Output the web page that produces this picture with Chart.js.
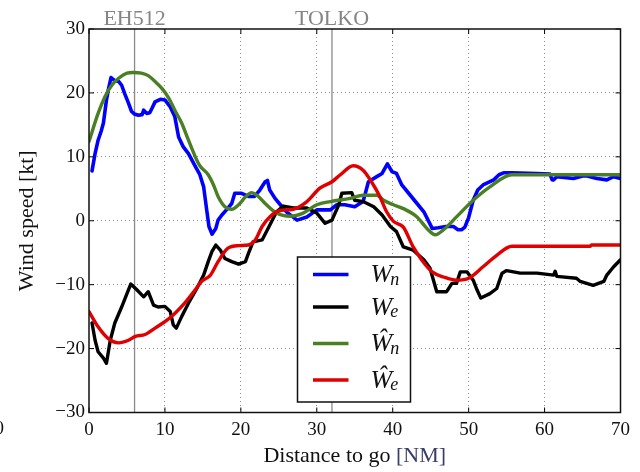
<!DOCTYPE html>
<html>
<head>
<meta charset="utf-8">
<title>Wind speed</title>
<script src="https://cdn.jsdelivr.net/npm/chart.js@4.4.0/dist/chart.umd.min.js"></script>
<style>
  body { margin: 0; background: #fff; }
  canvas { display: block; }
</style>
</head>
<body>
<canvas id="windChart" width="640" height="472"></canvas>
<script>
// Measured wind, north component (W_n)
const wnX = [0.4, 0.8, 1.2, 1.6, 1.9, 2.3, 2.6, 2.9, 3.3, 3.9, 4.3, 4.7, 5.2, 5.6, 6.0, 6.5, 7.0, 7.2, 7.6, 8.0,
    8.3, 8.7, 9.4, 10.0, 10.7, 11.3, 11.8, 12.4, 13.1, 14.0, 14.6, 15.1, 15.5, 15.8, 16.2, 16.7, 17.0, 17.5, 18.1, 18.8,
    19.2, 20.1, 21.0, 21.8, 22.5, 23.2, 23.5, 23.8, 24.5, 25.2, 26.0, 27.4, 28.7, 30.0, 31.8, 32.6, 33.7, 35.0, 36.1, 36.4,
    36.8, 37.9, 38.6, 39.3, 39.9, 40.5, 41.2, 42.1, 43.2, 44.1, 45.2, 46.0, 47.0, 48.0, 48.6, 49.1, 49.5, 50.0, 50.6, 51.2,
    51.9, 53.3, 54.0, 54.6, 55.7, 59.0, 60.7, 61.0, 61.2, 61.6, 63.8, 65.0, 65.6, 66.9, 68.2, 69.1, 70.0];
const wnY = [7.8, 10.5, 12.6, 14.0, 15.3, 18.9, 20.8, 22.4, 22.0, 21.8, 21.2, 19.9, 18.4, 17.1, 16.7, 16.5, 16.6, 17.3, 16.8, 16.9,
    17.6, 18.6, 19.0, 18.9, 17.8, 16.3, 13.1, 11.6, 10.5, 8.5, 7.2, 5.3, 1.7, -0.9, -2.1, -1.2, 0.1, 0.9, 1.7, 2.7,
    4.3, 4.3, 3.8, 3.8, 4.8, 6.1, 6.3, 4.8, 3.5, 2.5, 1.4, 0.1, 0.6, 1.7, 1.7, 2.5, 2.5, 2.2, 3.0, 4.3,
    6.1, 6.9, 7.4, 8.9, 7.7, 7.4, 5.6, 4.3, 2.7, 1.4, -1.2, -1.1, -0.9, -0.9, -1.4, -1.4, -1.0, 0.5, 3.2, 4.8,
    5.6, 6.4, 7.2, 7.5, 7.5, 7.4, 7.3, 6.4, 6.4, 6.9, 6.6, 7.0, 7.0, 6.6, 6.4, 6.9, 6.6];

// Measured wind, east component (W_e)
const weX = [0.4, 0.8, 1.2, 1.9, 2.3, 2.8, 3.4, 4.3, 5.0, 5.5, 6.3, 7.2, 7.8, 8.5, 9.1, 10.0, 10.7, 11.1, 11.5, 12.2,
    13.1, 14.2, 15.1, 15.7, 16.2, 16.7, 17.3, 17.9, 18.8, 19.7, 20.6, 21.0, 21.6, 22.8, 23.8, 24.7, 25.6, 26.9, 28.7, 30.0,
    31.1, 32.0, 32.9, 33.3, 34.6, 35.0, 36.1, 37.5, 38.6, 39.7, 40.5, 41.4, 42.7, 44.1, 44.9, 45.8, 47.1, 47.8, 48.4, 48.9,
    49.8, 50.6, 51.1, 51.6, 52.8, 53.7, 54.4, 55.0, 56.8, 59.0, 61.2, 61.4, 61.6, 64.2, 64.7, 66.4, 67.8, 68.2, 69.1, 70.0];
const weY = [-16.0, -18.7, -20.5, -21.5, -22.3, -18.7, -16.0, -13.5, -11.4, -9.9, -10.8, -11.9, -11.1, -13.2, -13.5, -13.4, -14.2, -16.3, -16.8, -15.0,
    -12.9, -10.6, -8.5, -6.4, -4.8, -3.8, -4.6, -5.9, -6.4, -6.8, -6.4, -5.1, -3.3, -3.0, -0.7, 1.4, 2.3, 2.0, 2.0, 1.2,
    -0.4, 0.1, 2.5, 4.3, 4.4, 3.2, 3.0, 2.2, 0.9, -0.9, -1.7, -4.1, -4.6, -6.1, -7.4, -11.1, -11.1, -9.8, -9.8, -8.0,
    -8.0, -9.3, -10.8, -12.1, -11.4, -10.6, -8.2, -7.8, -8.2, -8.2, -8.5, -7.9, -8.7, -9.0, -9.5, -10.1, -9.5, -8.5, -7.2, -6.1];

// Estimated wind, north component (W_n hat)
const wnHatX = [0, 1.2, 2.1, 3.0, 3.9, 5.0, 5.8, 6.9, 7.8, 8.7, 9.6, 10.5, 11.3, 12.2, 13.1, 14.0, 14.6, 15.7, 16.4, 17.0,
    17.9, 18.8, 19.7, 20.6, 21.4, 22.3, 23.2, 24.7, 26.5, 28.2, 30.0, 31.8, 34.4, 36.1, 37.9, 38.8, 40.1, 41.4, 43.2, 44.5,
    45.6, 46.7, 48.4, 50.6, 52.8, 55.7, 70.0];
const wnHatY = [12.4, 16.8, 19.4, 21.2, 22.3, 23.1, 23.2, 23.1, 22.7, 21.8, 20.7, 19.2, 17.3, 15.3, 12.6, 10.0, 8.6, 7.2, 5.6, 3.8,
    2.2, 1.8, 2.5, 3.7, 4.4, 3.8, 2.7, 1.2, 0.7, 1.2, 2.5, 3.0, 3.5, 4.0, 4.0, 3.2, 2.5, 1.9, 0.6, -1.2,
    -2.2, -1.4, 0.6, 3.2, 5.3, 7.2, 7.2];

// Estimated wind, east component (W_e hat)
const weHatX = [0, 1.2, 2.5, 3.9, 5.2, 6.1, 7.4, 8.7, 10.0, 11.3, 12.6, 14.0, 14.8, 16.0, 17.0, 18.3, 19.7, 21.0, 21.9, 22.8,
    23.8, 25.2, 26.9, 28.7, 30.4, 32.0, 33.1, 34.8, 36.1, 37.2, 38.3, 39.2, 40.1, 41.4, 42.7, 43.8, 45.2, 46.7, 48.4, 50.0,
    51.9, 53.7, 55.7, 66.0, 66.2, 70.0];
const weHatY = [-14.2, -16.6, -18.4, -19.1, -18.7, -18.1, -17.8, -16.8, -15.8, -14.5, -12.9, -10.8, -9.5, -8.5, -6.4, -4.3, -3.9, -3.8, -3.0, -0.9,
    0.6, 1.6, 1.8, 3.0, 5.1, 6.1, 7.2, 8.6, 7.9, 6.1, 3.8, 1.4, -0.1, -1.0, -4.1, -6.1, -8.0, -8.8, -9.3, -9.0,
    -7.2, -5.4, -4.0, -4.0, -3.8, -3.8];

// Waypoint markers
const waypointNames = ['EH512', 'TOLKO'];
const waypointDist = [6, 32];

const serif = '"Liberation Serif", "Times New Roman", serif';

function toPoints(xs, ys) {
    return xs.map((x, i) => ({ x: x, y: ys[i] }));
}

// Legend entries drawn by hand (math style labels)
const legendEntries = [
    { color: '#0000ff', base: 'W', sub: 'n' },
    { color: '#000000', base: 'W', sub: 'e' },
    { color: '#4b7f24', base: '\u0174', sub: 'n' },
    { color: '#e00000', base: '\u0174', sub: 'e' }
];

const overlayPlugin = {
    id: 'overlay',
    beforeDatasetsDraw(chart) {
        const ctx = chart.ctx;
        const area = chart.chartArea;
        const xs = chart.scales.x;
        ctx.save();
        ctx.strokeStyle = '#8a8a8a';
        ctx.lineWidth = 1.3;
        waypointDist.forEach(d => {
            const px = xs.getPixelForValue(d);
            ctx.beginPath();
            ctx.moveTo(px, area.top);
            ctx.lineTo(px, area.bottom);
            ctx.stroke();
        });
        ctx.restore();
    },
    afterDatasetsDraw(chart) {
        const ctx = chart.ctx;
        const area = chart.chartArea;
        const xs = chart.scales.x;
        const ys = chart.scales.y;
        ctx.save();
        // inward ticks on all four sides
        ctx.strokeStyle = '#000';
        ctx.lineWidth = 1;
        ctx.beginPath();
        xs.ticks.forEach(t => {
            const px = xs.getPixelForValue(t.value);
            ctx.moveTo(px, area.bottom); ctx.lineTo(px, area.bottom - 5);
            ctx.moveTo(px, area.top); ctx.lineTo(px, area.top + 5);
        });
        ys.ticks.forEach(t => {
            const py = ys.getPixelForValue(t.value);
            ctx.moveTo(area.left, py); ctx.lineTo(area.left + 5, py);
            ctx.moveTo(area.right, py); ctx.lineTo(area.right - 5, py);
        });
        ctx.stroke();
        // frame
        ctx.lineWidth = 1.5;
        ctx.strokeStyle = '#111';
        ctx.strokeRect(area.left, area.top, area.right - area.left, area.bottom - area.top);
        ctx.restore();
    },
    afterDraw(chart) {
        const ctx = chart.ctx;
        const area = chart.chartArea;
        const xs = chart.scales.x;
        ctx.save();

        // waypoint names above the plot
        ctx.fillStyle = '#858585';
        ctx.font = '22px ' + serif;
        ctx.textAlign = 'center';
        ctx.textBaseline = 'alphabetic';
        waypointNames.forEach((name, i) => {
            ctx.fillText(name, xs.getPixelForValue(waypointDist[i]), area.top - 4);
        });

        // x axis title, unit in a different tint
        ctx.font = '22px ' + serif;
        const main = 'Distance to go ';
        const unit = '[NM]';
        const w1 = ctx.measureText(main).width;
        const w2 = ctx.measureText(unit).width;
        const cx = (area.left + area.right) / 2;
        ctx.textAlign = 'left';
        ctx.fillStyle = '#111';
        ctx.fillText(main, cx - (w1 + w2) / 2, 462);
        ctx.fillStyle = '#3a3d68';
        ctx.fillText(unit, cx - (w1 + w2) / 2 + w1, 462);

        // y axis title
        ctx.save();
        ctx.translate(33, (area.top + area.bottom) / 2);
        ctx.rotate(-Math.PI / 2);
        ctx.textAlign = 'center';
        ctx.fillStyle = '#111';
        ctx.fillText('Wind speed [kt]', 0, 0);
        ctx.restore();

        // clipped label at far left
        ctx.font = '19px ' + serif;
        ctx.textAlign = 'right';
        ctx.fillStyle = '#111';
        ctx.fillText('0', 4, 434);

        // legend
        const lx = area.left + 208.5;
        const ly = area.top + 228;
        const lw = 113;
        const lh = 145;
        ctx.fillStyle = '#fff';
        ctx.fillRect(lx, ly, lw, lh);
        ctx.strokeStyle = '#111';
        ctx.lineWidth = 1.5;
        ctx.strokeRect(lx, ly, lw, lh);
        const rowY = [17.5, 50, 86.5, 123];
        legendEntries.forEach((e, i) => {
            const y = ly + rowY[i];
            ctx.strokeStyle = e.color;
            ctx.lineWidth = 3.5;
            ctx.beginPath();
            ctx.moveTo(lx + 15.5, y);
            ctx.lineTo(lx + 51, y);
            ctx.stroke();
            ctx.fillStyle = '#111';
            ctx.textAlign = 'left';
            ctx.font = 'italic 26px ' + serif;
            ctx.fillText(e.base, lx + 73, y + 7.5);
            const bw = ctx.measureText(e.base).width;
            ctx.font = 'italic 18px ' + serif;
            ctx.fillText(e.sub, lx + 73 + bw - 2, y + 10);
        });
        ctx.restore();
    }
};

const gridColor = (ctx) => {
    const v = ctx.tick ? ctx.tick.value : null;
    const sc = ctx.scale;
    return (v === sc.min || v === sc.max) ? 'rgba(0,0,0,0)' : '#8c8c8c';
};

const ctx = document.getElementById('windChart').getContext('2d');
const windChart = new Chart(ctx, {
    type: 'line',
    data: {
        datasets: [{
            label: 'Wn',
            data: toPoints(wnX, wnY),
            borderColor: '#0000ff',
            borderWidth: 3.6,
            tension: 0,
            order: 4
        }, {
            label: 'We',
            data: toPoints(weX, weY),
            borderColor: '#000000',
            borderWidth: 3.4,
            tension: 0,
            order: 3
        }, {
            label: '\u0174n',
            data: toPoints(wnHatX, wnHatY),
            borderColor: '#4b7f24',
            borderWidth: 3.4,
            cubicInterpolationMode: 'monotone',
            order: 2
        }, {
            label: '\u0174e',
            data: toPoints(weHatX, weHatY),
            borderColor: '#e00000',
            borderWidth: 3.4,
            cubicInterpolationMode: 'monotone',
            order: 1
        }]
    },
    options: {
        responsive: false,
        animation: false,
        devicePixelRatio: 1,
        elements: {
            point: { radius: 0, hoverRadius: 0 },
            line: { borderCapStyle: 'round', borderJoinStyle: 'round' }
        },
        layout: {
            padding: { left: 0, right: 19.5, top: 29, bottom: 0 }
        },
        plugins: {
            legend: { display: false },
            tooltip: { enabled: false }
        },
        scales: {
            x: {
                type: 'linear',
                min: 0,
                max: 70,
                afterFit: (scale) => { scale.height = 59.5; },
                border: { display: false, dash: [1, 3] },
                grid: {
                    color: gridColor,
                    lineWidth: 1,
                    drawTicks: false
                },
                ticks: {
                    stepSize: 10,
                    padding: 6,
                    color: '#111',
                    font: { family: serif, size: 19 },
                    maxRotation: 0
                }
            },
            y: {
                min: -30,
                max: 30,
                afterFit: (scale) => { scale.width = 89; },
                border: { display: false, dash: [1, 3] },
                grid: {
                    color: gridColor,
                    lineWidth: 1,
                    drawTicks: false
                },
                ticks: {
                    stepSize: 10,
                    padding: 4,
                    color: '#111',
                    font: { family: serif, size: 19 },
                    callback: (v) => (v < 0 ? '\u2212' + Math.abs(v) : String(v))
                }
            }
        }
    },
    plugins: [overlayPlugin]
});
</script>
</body>
</html>
